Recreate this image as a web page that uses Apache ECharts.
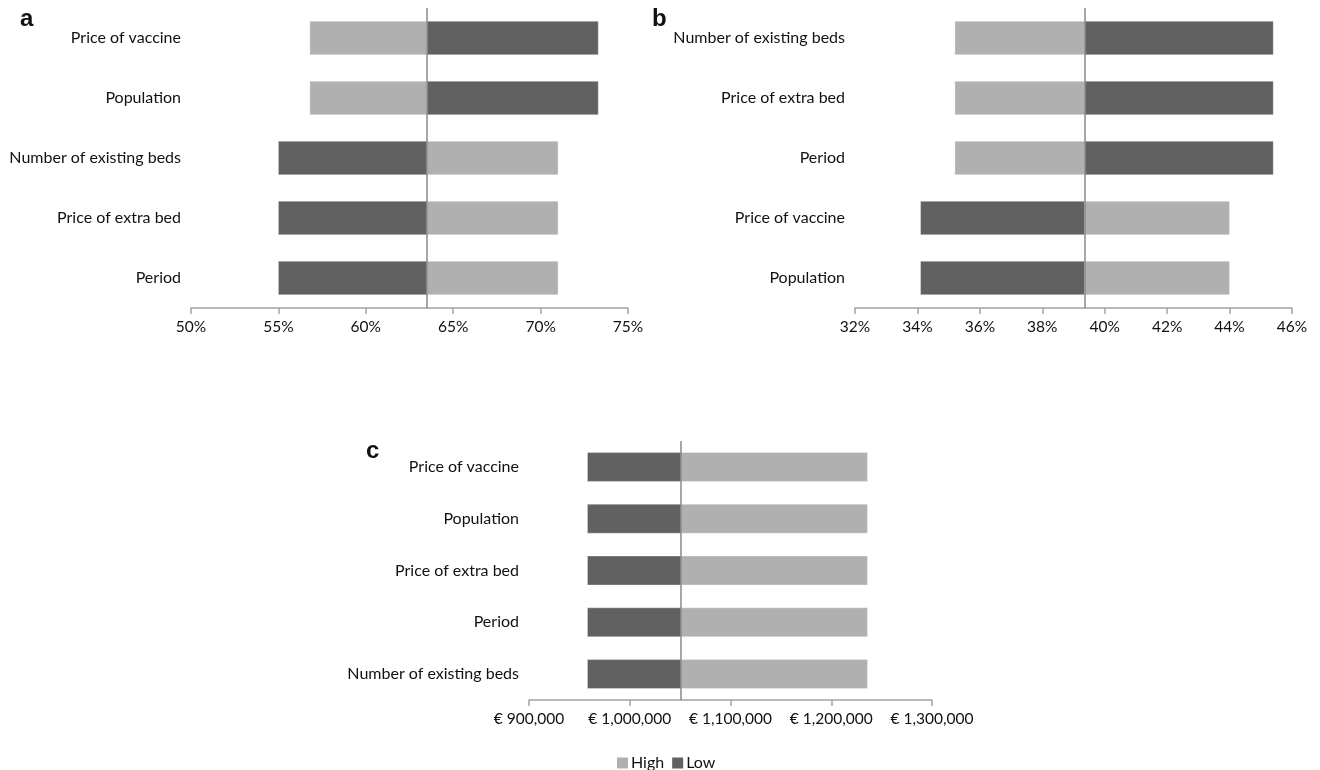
<!DOCTYPE html>
<html>
<head>
<meta charset="utf-8">
<script src="https://cdn.jsdelivr.net/npm/echarts@6/dist/echarts.min.js"></script>
<style>
  html, body { margin: 0; padding: 0; background: #fff; }
  #chart { width: 1320px; height: 770px; }
</style>
</head>
<body>
<div id="chart"></div>
<script>
// Panel a: probability outcome (%)
const catsA = ['Price of vaccine', 'Population', 'Number of existing beds', 'Price of extra bed', 'Period'];
const highA = [56.8, 56.8, 71.0, 71.0, 71.0];
const lowA  = [73.3, 73.3, 55.0, 55.0, 55.0];
const baseA = 63.5;

// Panel b: probability outcome (%)
const catsB = ['Number of existing beds', 'Price of extra bed', 'Period', 'Price of vaccine', 'Population'];
const highB = [35.2, 35.2, 35.2, 44.0, 44.0];
const lowB  = [45.4, 45.4, 45.4, 34.1, 34.1];
const baseB = 39.35;

// Panel c: cost outcome (EUR)
const catsC = ['Price of vaccine', 'Population', 'Price of extra bed', 'Period', 'Number of existing beds'];
const highC = [1236000, 1236000, 1236000, 1236000, 1236000];
const lowC  = [958000, 958000, 958000, 958000, 958000];
const baseC = 1051000;

// Axis ranges / ticks
const ticksA = { min: 50, max: 75, interval: 5 };
const ticksB = { min: 32, max: 46, interval: 2 };
const ticksC = { min: 900000, max: 1300000, interval: 100000 };

const COLOR_HIGH = '#b0b0b0';
const COLOR_LOW = '#616161';
const FONT = 'Lato, "Open Sans", sans-serif';

const chart = echarts.init(document.getElementById('chart'), null, { renderer: 'canvas' });

function fmtEuro(v) {
  return '\u20ac ' + Math.round(v).toString().replace(/\B(?=(\d{3})+(?!\d))/g, ',');
}

// Bar drawn from the panel's base value to the data value
function tornadoRender(base, ratio) {
  return function (params, api) {
    const val = api.value(0);
    const cat = api.value(1);
    const p0 = api.coord([base, cat]);
    const p1 = api.coord([val, cat]);
    const h = api.size([0, 1])[1] * ratio;
    return {
      type: 'rect',
      shape: {
        x: Math.min(p0[0], p1[0]),
        y: p0[1] - h / 2,
        width: Math.abs(p1[0] - p0[0]),
        height: h
      },
      style: { fill: api.visual('color'), stroke: 'rgba(255,255,255,0.35)', lineWidth: 1 }
    };
  };
}

function toData(values) {
  return values.map((v, i) => [v, i]);
}

function xAxisFor(idx, t, fmt) {
  return {
    gridIndex: idx,
    type: 'value',
    min: t.min, max: t.max, interval: t.interval,
    axisLine: { show: true, lineStyle: { color: '#a3a3a3', width: 1.5 } },
    axisTick: { show: true, inside: false, length: 6, lineStyle: { color: '#a3a3a3', width: 1.5 } },
    axisLabel: { color: '#111', fontSize: 15.5, fontFamily: FONT, margin: 11, formatter: fmt },
    splitLine: { show: false }
  };
}

function yAxisFor(idx, cats) {
  return {
    gridIndex: idx,
    type: 'category',
    data: cats,
    inverse: true,
    axisLine: { show: false },
    axisTick: { show: false },
    axisLabel: { color: '#111', fontSize: 16, fontFamily: FONT, margin: 10 },
    splitLine: { show: false }
  };
}

function panelSeries(idx, high, low, base, ratio) {
  const render = tornadoRender(base, ratio);
  return [
    {
      name: 'High', type: 'custom', xAxisIndex: idx, yAxisIndex: idx,
      itemStyle: { color: COLOR_HIGH },
      encode: { x: 0, y: 1 },
      renderItem: render,
      data: toData(high),
      z: 2
    },
    {
      name: 'Low', type: 'custom', xAxisIndex: idx, yAxisIndex: idx,
      itemStyle: { color: COLOR_LOW },
      encode: { x: 0, y: 1 },
      renderItem: render,
      data: toData(low),
      z: 2,
      markLine: {
        silent: true,
        symbol: 'none',
        label: { show: false },
        lineStyle: { color: '#8a8a8a', width: 1.5, type: 'solid' },
        data: [{ xAxis: base }],
        z: 5
      }
    }
  ];
}

const panelTitle = (text, left, top) => ({
  text: text, left: left, top: top,
  textStyle: { fontFamily: 'Liberation Sans, Arial, sans-serif', fontWeight: 'bold', fontSize: 24, color: '#111' },
  padding: 0
});

chart.setOption({
  animation: false,
  backgroundColor: '#fff',
  title: [
    panelTitle('a', 20, 7),
    panelTitle('b', 652, 7),
    panelTitle('c', 366, 439)
  ],
  legend: {
    data: ['High', 'Low'],
    left: 612, top: 750,
    icon: 'rect',
    itemWidth: 11, itemHeight: 11, itemGap: 8,
    textStyle: { fontSize: 16, fontFamily: FONT, color: '#111', padding: [0, 0, 0, -2] }
  },
  grid: [
    { left: 191, width: 437, top: 8, height: 300 },
    { left: 855, width: 437, top: 8, height: 300 },
    { left: 529, width: 403, top: 441, height: 259 }
  ],
  xAxis: [
    xAxisFor(0, ticksA, v => v + '%'),
    xAxisFor(1, ticksB, v => v + '%'),
    xAxisFor(2, ticksC, fmtEuro)
  ],
  yAxis: [
    yAxisFor(0, catsA),
    yAxisFor(1, catsB),
    yAxisFor(2, catsC)
  ],
  series: [
    ...panelSeries(0, highA, lowA, baseA, 0.56),
    ...panelSeries(1, highB, lowB, baseB, 0.56),
    ...panelSeries(2, highC, lowC, baseC, 0.56)
  ]
});
</script>
</body>
</html>
